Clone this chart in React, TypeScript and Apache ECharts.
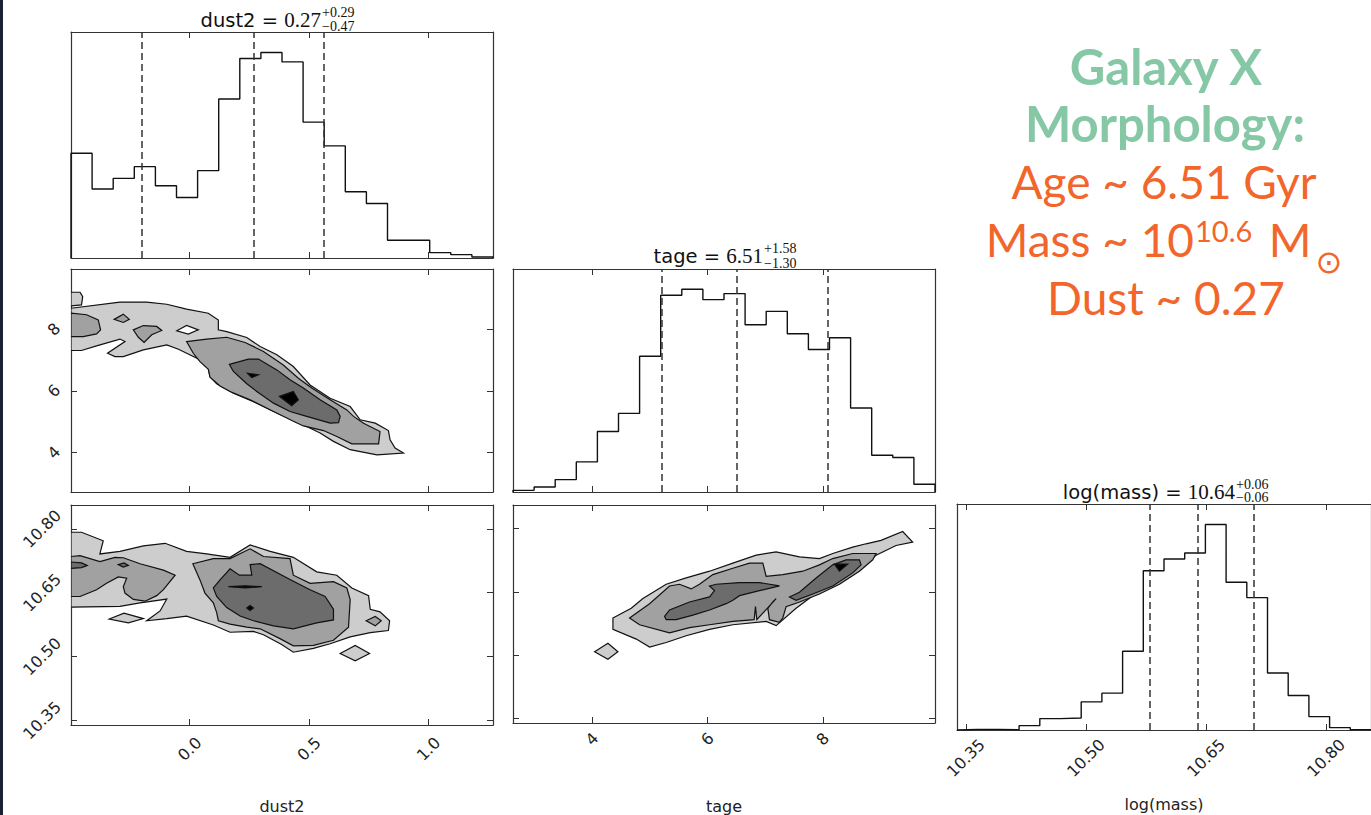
import React, { useEffect, useRef } from "react";
import * as echarts from "echarts";

// ---------- data ----------
const dust2Range = [-0.497, 1.27];
const tageXRange = [2.632, 9.945];
const tageYRange = [2.716, 9.955];
const massRange = [10.339, 10.856];

const dust2Ticks = [0, 0.5, 1.0];
const tageTicks = [4, 6, 8];
const massTicks = [10.35, 10.5, 10.65, 10.8];

const dust2Counts = [313, 206, 238, 273, 216, 181, 261, 475, 596, 614, 586, 406, 335, 198, 163, 53, 53, 16, 10, 3];
const tageCounts = [5, 15, 37, 90, 181, 235, 406, 588, 606, 575, 593, 500, 540, 473, 426, 461, 251, 110, 103, 23];
const massCounts = [2, 2, 1, 13, 34, 36, 84, 110, 235, 475, 510, 528, 613, 441, 395, 170, 103, 40, 7, 1];

const dust2Quantiles = [-0.2, 0.27, 0.56];
const tageQuantiles = [5.21, 6.51, 8.09];
const massQuantiles = [10.578, 10.641, 10.705];

const titleDust2 = { name: "dust2 = ", value: "0.27", plus: "+0.29", minus: "\u22120.47" };
const titleTage = { name: "tage = ", value: "6.51", plus: "+1.58", minus: "\u22121.30" };
const titleMass = { name: "log(mass) = ", value: "10.64", plus: "+0.06", minus: "\u22120.06" };

// contour levels: 0 light, 1 mid, 2 dark, 3 black, 4 empty hole
type Poly = { level: number; pts: number[][] };

const dustTageContours: Poly[] = [
  { level: 0, pts: [[-0.497, 8.68], [-0.292, 8.88], [-0.18, 8.88], [-0.096, 8.81], [-0.013, 8.65], [0.078, 8.52], [0.12, 8.3], [0.12, 7.98], [0.155, 7.92], [0.239, 7.73], [0.295, 7.44], [0.365, 7.17], [0.434, 6.79], [0.504, 6.19], [0.588, 5.76], [0.672, 5.49], [0.714, 5.06], [0.777, 4.95], [0.832, 4.71], [0.839, 4.41], [0.86, 4.14], [0.895, 3.98], [0.784, 3.92], [0.672, 4.09], [0.602, 4.36], [0.546, 4.63], [0.462, 4.95], [0.365, 5.28], [0.267, 5.65], [0.183, 5.92], [0.113, 6.23], [0.085, 6.46], [0.078, 6.74], [0.043, 7.01], [-0.047, 7.35], [-0.096, 7.49], [-0.194, 7.33], [-0.278, 7.11], [-0.313, 7.11], [-0.344, 7.22], [-0.271, 7.6], [-0.292, 7.68], [-0.39, 7.46], [-0.453, 7.31], [-0.497, 7.31]] },
  { level: 0, pts: [[-0.497, 9.2], [-0.459, 9.2], [-0.448, 9.06], [-0.453, 8.79], [-0.497, 8.76]] },
  { level: 4, pts: [[-0.054, 7.95], [-0.013, 8.12], [0.036, 7.98], [-0.006, 7.84]] },
  { level: 1, pts: [[-0.497, 8.52], [-0.432, 8.47], [-0.383, 8.3], [-0.373, 7.98], [-0.39, 7.85], [-0.446, 7.76], [-0.497, 7.76]] },
  { level: 1, pts: [[-0.316, 8.32], [-0.278, 8.49], [-0.253, 8.32], [-0.278, 8.22]] },
  { level: 1, pts: [[-0.236, 7.98], [-0.194, 8.12], [-0.138, 8.09], [-0.117, 7.96], [-0.159, 7.82], [-0.191, 7.57], [-0.215, 7.74]] },
  { level: 1, pts: [[-0.013, 7.6], [0.071, 7.68], [0.155, 7.74], [0.232, 7.57], [0.309, 7.28], [0.392, 6.84], [0.455, 6.41], [0.511, 6.09], [0.588, 5.71], [0.658, 5.38], [0.686, 5.17], [0.728, 4.95], [0.797, 4.68], [0.791, 4.28], [0.679, 4.28], [0.616, 4.52], [0.56, 4.71], [0.476, 4.86], [0.434, 5.01], [0.351, 5.33], [0.253, 5.71], [0.169, 5.98], [0.127, 6.16], [0.085, 6.44], [0.078, 6.7], [0.043, 6.95], [0.015, 7.22]] },
  { level: 2, pts: [[0.166, 6.86], [0.246, 7.03], [0.288, 7.03], [0.365, 6.68], [0.42, 6.36], [0.476, 6.09], [0.546, 5.71], [0.616, 5.38], [0.63, 5.17], [0.623, 4.97], [0.588, 4.95], [0.49, 5.17], [0.42, 5.33], [0.351, 5.6], [0.281, 5.98], [0.239, 6.23], [0.183, 6.63]] },
  { level: 3, pts: [[0.242, 6.57], [0.288, 6.52], [0.26, 6.43]] },
  { level: 3, pts: [[0.376, 5.82], [0.434, 5.98], [0.455, 5.71], [0.427, 5.52]] },
];

const dustMassContours: Poly[] = [
  { level: 0, pts: [[-0.497, 10.792], [-0.453, 10.792], [-0.362, 10.772], [-0.376, 10.741], [-0.292, 10.747], [-0.194, 10.76], [-0.103, 10.766], [-0.013, 10.747], [0.071, 10.741], [0.169, 10.733], [0.253, 10.762], [0.337, 10.747], [0.434, 10.733], [0.532, 10.699], [0.616, 10.691], [0.679, 10.661], [0.749, 10.643], [0.756, 10.611], [0.797, 10.605], [0.837, 10.584], [0.832, 10.561], [0.756, 10.556], [0.672, 10.546], [0.588, 10.53], [0.518, 10.519], [0.434, 10.51], [0.385, 10.528], [0.309, 10.551], [0.267, 10.559], [0.169, 10.557], [0.099, 10.574], [-0.013, 10.595], [-0.096, 10.589], [-0.18, 10.584], [-0.124, 10.607], [-0.096, 10.635], [-0.208, 10.626], [-0.292, 10.618], [-0.497, 10.616]] },
  { level: 0, pts: [[-0.337, 10.588], [-0.275, 10.602], [-0.194, 10.589], [-0.257, 10.579]] },
  { level: 0, pts: [[0.63, 10.507], [0.693, 10.526], [0.753, 10.507], [0.693, 10.49]] },
  { level: 1, pts: [[-0.497, 10.735], [-0.459, 10.737], [-0.376, 10.723], [-0.313, 10.733], [-0.278, 10.732], [-0.208, 10.718], [-0.11, 10.703], [-0.061, 10.691], [-0.11, 10.657], [-0.138, 10.643], [-0.187, 10.63], [-0.236, 10.634], [-0.271, 10.649], [-0.278, 10.664], [-0.264, 10.684], [-0.299, 10.687], [-0.348, 10.672], [-0.39, 10.657], [-0.459, 10.641], [-0.497, 10.641]] },
  { level: 1, pts: [[0.013, 10.718], [0.099, 10.73], [0.169, 10.73], [0.253, 10.753], [0.309, 10.735], [0.42, 10.73], [0.434, 10.691], [0.504, 10.672], [0.602, 10.676], [0.658, 10.661], [0.672, 10.634], [0.665, 10.569], [0.602, 10.538], [0.518, 10.526], [0.434, 10.525], [0.378, 10.542], [0.295, 10.565], [0.239, 10.569], [0.169, 10.576], [0.12, 10.584], [0.113, 10.603], [0.099, 10.626], [0.064, 10.649], [0.043, 10.68]] },
  { level: 1, pts: [[0.739, 10.584], [0.777, 10.594], [0.802, 10.584], [0.777, 10.572]] },
  { level: 2, pts: [[-0.497, 10.722], [-0.453, 10.72], [-0.429, 10.714], [-0.453, 10.709], [-0.497, 10.707]] },
  { level: 2, pts: [[-0.299, 10.716], [-0.275, 10.72], [-0.257, 10.714], [-0.278, 10.71]] },
  { level: 2, pts: [[0.099, 10.661], [0.127, 10.68], [0.169, 10.706], [0.208, 10.691], [0.26, 10.691], [0.253, 10.716], [0.295, 10.718], [0.42, 10.681], [0.504, 10.657], [0.567, 10.641], [0.602, 10.611], [0.602, 10.586], [0.532, 10.579], [0.434, 10.565], [0.351, 10.572], [0.267, 10.584], [0.211, 10.595], [0.155, 10.615], [0.113, 10.641]] },
  { level: 3, pts: [[0.162, 10.664], [0.232, 10.666], [0.302, 10.664], [0.232, 10.661]] },
  { level: 3, pts: [[0.239, 10.614], [0.253, 10.62], [0.267, 10.614], [0.253, 10.608]] },
];

const tageMassContours: Poly[] = [
  { level: 0, pts: [[4.364, 10.588], [4.681, 10.611], [4.883, 10.634], [5.287, 10.668], [5.633, 10.683], [6.038, 10.699], [6.442, 10.718], [6.846, 10.737], [7.192, 10.745], [7.596, 10.733], [7.942, 10.729], [8.173, 10.741], [8.519, 10.756], [8.75, 10.764], [9.01, 10.772], [9.385, 10.793], [9.558, 10.768], [9.27, 10.76], [8.924, 10.737], [8.577, 10.703], [8.173, 10.668], [7.827, 10.641], [7.538, 10.611], [7.192, 10.57], [7.019, 10.58], [6.442, 10.572], [6.038, 10.561], [5.633, 10.546], [5.287, 10.53], [4.999, 10.519], [4.768, 10.538], [4.364, 10.561]] },
  { level: 0, pts: [[4.046, 10.508], [4.277, 10.528], [4.45, 10.508], [4.277, 10.49]] },
  { level: 1, pts: [[4.652, 10.588], [4.999, 10.622], [5.345, 10.664], [5.518, 10.668], [5.72, 10.657], [5.864, 10.668], [6.095, 10.691], [6.442, 10.706], [6.73, 10.718], [6.961, 10.718], [7.019, 10.687], [7.307, 10.691], [7.654, 10.699], [7.942, 10.714], [8.173, 10.729], [8.519, 10.741], [8.924, 10.741], [8.866, 10.726], [8.635, 10.699], [8.289, 10.668], [7.942, 10.645], [7.596, 10.626], [7.365, 10.615], [7.307, 10.588], [7.25, 10.578], [7.076, 10.584], [7.048, 10.611], [7.134, 10.626], [7.192, 10.634], [6.857, 10.584], [6.834, 10.615], [6.811, 10.584], [6.442, 10.58], [6.038, 10.572], [5.691, 10.565], [5.345, 10.553], [4.825, 10.572]] },
  { level: 2, pts: [[5.258, 10.592], [5.345, 10.607], [5.691, 10.626], [6.038, 10.638], [6.124, 10.653], [6.038, 10.664], [6.153, 10.668], [6.557, 10.672], [6.903, 10.672], [7.25, 10.664], [6.903, 10.653], [6.557, 10.641], [6.442, 10.63], [6.326, 10.622], [6.038, 10.607], [5.749, 10.595], [5.46, 10.584], [5.287, 10.584]] },
  { level: 2, pts: [[7.423, 10.638], [7.596, 10.649], [7.885, 10.683], [8.173, 10.714], [8.404, 10.726], [8.635, 10.726], [8.664, 10.714], [8.519, 10.695], [8.173, 10.664], [7.827, 10.645], [7.538, 10.63]] },
  { level: 3, pts: [[8.202, 10.716], [8.433, 10.716], [8.289, 10.699]] },
];

const rightLines = ["Galaxy X", "Morphology:", "Age ~ 6.51 Gyr", "Mass ~ 10", "10.6", " M", "\u2299", "Dust ~ 0.27"];

// ---------- styles ----------
const SANS = "DejaVu Sans";
const SERIF = "Liberation Serif";
const AX = "#333333";
const levelFill = ["#cdcdcd", "#a1a1a1", "#6c6c6c", "#000000", "#ffffff"];
const GREEN = "#86c8a6";
const ORANGE = "#f2662b";

const grids = [
  { left: 71, top: 32, width: 422, height: 226 },
  { left: 71, top: 269, width: 422, height: 223 },
  { left: 71, top: 505, width: 422, height: 225 },
  { left: 513, top: 269, width: 422, height: 223 },
  { left: 513, top: 505, width: 422, height: 225 },
  { left: 957, top: 504, width: 422, height: 226 },
];

const fmt1 = (v: number) => v.toFixed(1);
const fmt0 = (v: number) => String(Math.round(v));
const fmt2 = (v: number) => v.toFixed(2);

function stepPoints(range: number[], counts: number[]) {
  const w = (range[1] - range[0]) / counts.length;
  const pts: number[][] = [[range[0], 0]];
  counts.forEach((c, i) => {
    const a = range[0] + i * w;
    pts.push([a, c], [a + w, c]);
  });
  pts.push([range[1], 0]);
  return pts;
}

type AxCfg = {
  range: number[];
  ticks: number[] | null;
  labels: boolean;
  fmt?: (v: number) => string;
  margin?: number;
  name?: string;
  nameGap?: number;
};

function makeAxes(gridIndex: number, cfg: AxCfg, dim: "x" | "y") {
  const main: any = {
    type: "value",
    gridIndex,
    min: cfg.range[0],
    max: cfg.range[1],
    position: dim === "x" ? "bottom" : "left",
    axisLine: { show: true, onZero: false, lineStyle: { color: AX, width: 1.2 } },
    axisTick: cfg.ticks
      ? { show: true, inside: true, length: 6, customValues: cfg.ticks, lineStyle: { color: AX, width: 1 } }
      : { show: false },
    axisLabel: cfg.labels && cfg.ticks
      ? {
          show: true,
          customValues: cfg.ticks,
          rotate: 45,
          align: "center",
          verticalAlign: "middle",
          margin: cfg.margin,
          formatter: cfg.fmt,
          fontFamily: SANS,
          fontSize: 16,
          color: "#222",
        }
      : { show: false },
    splitLine: { show: false },
  };
  if (cfg.name) {
    main.name = cfg.name;
    main.nameLocation = "middle";
    main.nameGap = cfg.nameGap;
    main.nameTextStyle = { fontFamily: SANS, fontSize: 16, color: "#222" };
  }
  const mirror: any = {
    type: "value",
    gridIndex,
    min: cfg.range[0],
    max: cfg.range[1],
    position: dim === "x" ? "top" : "right",
    axisLine: { show: true, onZero: false, lineStyle: { color: AX, width: 1.2 } },
    axisTick: cfg.ticks
      ? { show: true, inside: true, length: 6, customValues: cfg.ticks, lineStyle: { color: AX, width: 1 } }
      : { show: false },
    axisLabel: { show: false },
    splitLine: { show: false },
  };
  return [main, mirror];
}

function histSeries(axisIdx: number, range: number[], counts: number[], q: number[]) {
  return {
    type: "line",
    xAxisIndex: axisIdx,
    yAxisIndex: axisIdx,
    data: stepPoints(range, counts),
    showSymbol: false,
    symbol: "none",
    clip: true,
    silent: true,
    lineStyle: { color: "#111", width: 1.4 },
    markLine: {
      silent: true,
      symbol: ["none", "none"],
      label: { show: false },
      lineStyle: { color: "#333", width: 1.5, type: [7, 4] },
      data: q.map((v) => ({ xAxis: v })),
    },
  };
}

function contourSeries(axisIdx: number, polys: Poly[]) {
  return {
    type: "custom",
    xAxisIndex: axisIdx,
    yAxisIndex: axisIdx,
    clip: true,
    silent: true,
    data: polys.map((p) => p.pts[0]),
    renderItem: (params: any, api: any) => {
      const poly = polys[params.dataIndex];
      return {
        type: "polygon",
        shape: { points: poly.pts.map((pt) => api.coord(pt)) },
        style: { fill: levelFill[poly.level], stroke: "#111", lineWidth: 1.2 },
      };
    },
  };
}

function titleGraphic(t: { name: string; value: string; plus: string; minus: string }, x: number, y: number, ySup: number, ySub: number) {
  return [
    {
      type: "text",
      x,
      y,
      style: {
        text: `{s|${t.name}}{m|${t.value}}`,
        rich: {
          s: { fontFamily: SANS, fontSize: 19.5, fill: "#111", color: "#111" },
          m: { fontFamily: SERIF, fontSize: 21, fill: "#111", color: "#111" },
        },
        align: "right",
        textAlign: "right",
        verticalAlign: "middle",
        textVerticalAlign: "middle",
      },
    },
    {
      type: "text",
      x: x + 1,
      y: ySup,
      style: { text: t.plus, fontFamily: SERIF, fontSize: 14, fill: "#111", align: "left", textAlign: "left", verticalAlign: "middle", textVerticalAlign: "middle" },
    },
    {
      type: "text",
      x: x + 1,
      y: ySub,
      style: { text: t.minus, fontFamily: SERIF, fontSize: 14, fill: "#111", align: "left", textAlign: "left", verticalAlign: "middle", textVerticalAlign: "middle" },
    },
  ];
}

function txt(text: string, x: number, y: number, size: number, color: string, align: string, bold = false, family = "Lato") {
  return {
    type: "text",
    x,
    y,
    style: {
      text,
      fontFamily: family,
      fontSize: size,
      fontWeight: bold ? "bold" : "normal",
      fill: color,
      align,
      textAlign: align,
      verticalAlign: "middle",
      textVerticalAlign: "middle",
    },
  };
}

export default function App() {
  const ref = useRef<HTMLDivElement>(null);
  useEffect(() => {
    if (!ref.current) return;
    const chart = echarts.init(ref.current, undefined, { renderer: "svg" });

    const xAxis = [
      ...makeAxes(0, { range: dust2Range, ticks: dust2Ticks, labels: false }, "x"),
      ...makeAxes(1, { range: dust2Range, ticks: dust2Ticks, labels: false }, "x"),
      ...makeAxes(2, { range: dust2Range, ticks: dust2Ticks, labels: true, fmt: fmt1, margin: 24, name: "dust2", nameGap: 73 }, "x"),
      ...makeAxes(3, { range: tageXRange, ticks: tageTicks, labels: false }, "x"),
      ...makeAxes(4, { range: tageXRange, ticks: tageTicks, labels: true, fmt: fmt0, margin: 16, name: "tage", nameGap: 75 }, "x"),
      ...makeAxes(5, { range: massRange, ticks: massTicks, labels: true, fmt: fmt2, margin: 28, name: "log(mass)", nameGap: 66 }, "x"),
    ];
    const hmax = (c: number[]) => Math.max(...c) * 1.1;
    const yAxis = [
      ...makeAxes(0, { range: [0, hmax(dust2Counts)], ticks: null, labels: false }, "y"),
      ...makeAxes(1, { range: tageYRange, ticks: tageTicks, labels: true, fmt: fmt0, margin: 17 }, "y"),
      ...makeAxes(2, { range: massRange, ticks: massTicks, labels: true, fmt: fmt2, margin: 29 }, "y"),
      ...makeAxes(3, { range: [0, hmax(tageCounts)], ticks: null, labels: false }, "y"),
      ...makeAxes(4, { range: massRange, ticks: massTicks, labels: false }, "y"),
      ...makeAxes(5, { range: [0, hmax(massCounts)], ticks: null, labels: false }, "y"),
    ];

    const series = [
      histSeries(0, dust2Range, dust2Counts, dust2Quantiles),
      contourSeries(2, dustTageContours),
      contourSeries(4, dustMassContours),
      histSeries(6, tageXRange, tageCounts, tageQuantiles),
      contourSeries(8, tageMassContours),
      histSeries(10, massRange, massCounts, massQuantiles),
    ];

    const graphic = [
      { type: "rect", shape: { x: 0, y: 0, width: 3, height: 815 }, style: { fill: "#1b2231" } },
      ...titleGraphic(titleDust2, 321, 20, 12.5, 26.5),
      ...titleGraphic(titleTage, 763, 256, 248, 263),
      ...titleGraphic(titleMass, 1235, 492, 484.5, 497.5),
      txt(rightLines[0], 1166, 66, 49, GREEN, "center", true),
      txt(rightLines[1], 1165, 123, 49, GREEN, "center", true),
      txt(rightLines[2], 1164, 181, 46, ORANGE, "center"),
      txt(rightLines[3], 1194, 239, 46, ORANGE, "right"),
      txt(rightLines[4], 1195, 230, 29, ORANGE, "left"),
      txt(rightLines[5], 1257, 239, 46, ORANGE, "left"),
      txt(rightLines[6], 1329, 262, 32, ORANGE, "center", false, SANS),
      txt(rightLines[7], 1166, 297, 46, ORANGE, "center"),
    ];

    chart.setOption({
      animation: false,
      backgroundColor: "#ffffff",
      grid: grids.map((g) => ({ ...g, containLabel: false })),
      xAxis,
      yAxis,
      series,
      graphic,
    });
    return () => chart.dispose();
  }, []);
  return (
    <div
      ref={ref}
      style={{ position: "absolute", left: 0, top: 0, width: 1371, height: 815, background: "#fff", overflow: "hidden" }}
    />
  );
}
